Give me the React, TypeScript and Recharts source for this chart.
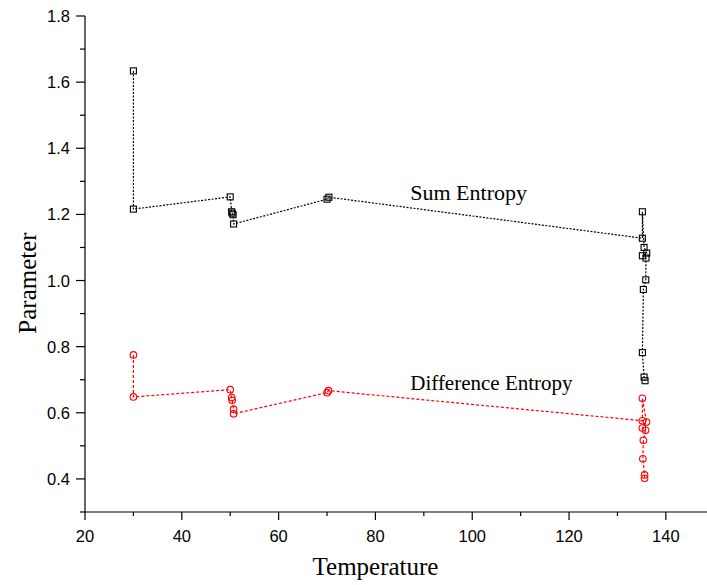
import React from 'react';
import { ScatterChart, Scatter, XAxis, YAxis, ReferenceDot } from 'recharts';

const sumTemperature = [30, 30, 50, 50.3, 50.4, 50.6, 50.7, 70, 70.4, 135.15, 135.15, 135.5, 136.05, 135.15, 135.9, 135.85, 135.35, 135.15, 135.5, 135.7];
const sumEntropy = [1.634, 1.216, 1.253, 1.208, 1.204, 1.199, 1.171, 1.246, 1.252, 1.128, 1.208, 1.1, 1.083, 1.075, 1.068, 1.002, 0.973, 0.782, 0.708, 0.697];

const diffTemperature = [30, 30, 50, 50.3, 50.4, 50.7, 50.7, 70, 70.3, 135.15, 135.15, 136.0, 135.15, 135.8, 135.35, 135.25, 135.6, 135.6];
const diffEntropy = [0.775, 0.648, 0.67, 0.646, 0.638, 0.611, 0.597, 0.661, 0.667, 0.576, 0.644, 0.572, 0.554, 0.547, 0.517, 0.461, 0.412, 0.402];

const xTicks = [20, 30, 40, 50, 60, 70, 80, 90, 100, 110, 120, 130, 140];
const yTicks = [0.3, 0.4, 0.5, 0.6, 0.7, 0.8, 0.9, 1.0, 1.1, 1.2, 1.3, 1.4, 1.5, 1.6, 1.7, 1.8];

const seriesLabels = [
  { name: 'Sum Entropy', x: 87.2, y: 1.243, color: '#000', size: 22 },
  { name: 'Difference Entropy', x: 87.2, y: 0.668, color: '#000', size: 21 },
];

const sumData = sumTemperature.map((t, i) => ({ t, v: sumEntropy[i] }));
const diffData = diffTemperature.map((t, i) => ({ t, v: diffEntropy[i] }));

const SANS = '"Liberation Sans", Arial, sans-serif';
const SERIF = '"Liberation Serif", "Times New Roman", serif';

const SquareShape = (props: any) => {
  const { cx, cy } = props;
  if (cx == null || cy == null) return null;
  return <rect x={cx - 3} y={cy - 3} width={6} height={6} fill="none" stroke="#000" strokeWidth={1.1} />;
};

const CircleShape = (props: any) => {
  const { cx, cy } = props;
  if (cx == null || cy == null) return null;
  return <circle cx={cx} cy={cy} r={3.3} fill="none" stroke="#ff0000" strokeWidth={1.1} />;
};

const YTick = (props: any) => {
  const { x, y, payload } = props;
  const v = payload.value;
  const k = Math.round(v * 10);
  const major = k % 2 === 0;
  const len = major ? 9 : 5;
  return (
    <g>
      <line x1={x - len} x2={x} y1={y} y2={y} stroke="#000" strokeWidth={1.2} />
      {major && (
        <text x={x - 15} y={y + 6} textAnchor="end" fontFamily={SANS} fontSize={16.5} fill="#000">
          {v.toFixed(1)}
        </text>
      )}
    </g>
  );
};

const XTick = (props: any) => {
  const { x, y, payload } = props;
  const v = payload.value;
  const major = Math.round(v) % 20 === 0;
  const len = major ? 8 : 4;
  return (
    <g>
      <line x1={x} x2={x} y1={y} y2={y + len} stroke="#000" strokeWidth={1.2} />
      {major && (
        <text x={x} y={y + 30} textAnchor="middle" fontFamily={SANS} fontSize={16.5} fill="#000">
          {v}
        </text>
      )}
    </g>
  );
};

const YTitle = (props: any) => {
  const { viewBox } = props;
  const cx = viewBox.x + 27;
  const cy = viewBox.y + viewBox.height / 2 + 19;
  return (
    <text x={cx} y={cy} transform={`rotate(-90, ${cx}, ${cy})`} textAnchor="middle" dominantBaseline="central" fontFamily={SERIF} fontSize={25} fill="#000">
      Parameter
    </text>
  );
};

const XTitle = (props: any) => {
  const { viewBox } = props;
  const cx = viewBox.x + 290.5;
  const cy = viewBox.y + 63;
  return (
    <text x={cx} y={cy} textAnchor="middle" fontFamily={SERIF} fontSize={25} fill="#000">
      Temperature
    </text>
  );
};

const makeLabelShape = (text: string, size: number, color: string) => (props: any) => {
  const { cx, cy } = props;
  return (
    <text x={cx} y={cy} textAnchor="start" fontFamily={SERIF} fontSize={size} fill={color}>
      {text}
    </text>
  );
};

export default function App() {
  return (
    <div style={{ position: 'absolute', left: 0, top: 0 }}>
      <ScatterChart width={707} height={585} margin={{ top: 16, right: 0, bottom: 0, left: 0 }}>
        <XAxis
          type="number"
          dataKey="t"
          domain={[20, 148.5]}
          ticks={xTicks}
          allowDataOverflow
          height={73}
          tickSize={0}
          tickMargin={0}
          tickLine={false}
          tick={<XTick />}
          axisLine={{ stroke: '#000', strokeWidth: 1.2 }}
          label={<XTitle />}
          interval={0}
        />
        <YAxis
          type="number"
          dataKey="v"
          domain={[0.3, 1.8]}
          ticks={yTicks}
          allowDataOverflow
          width={85}
          tickSize={0}
          tickMargin={0}
          tickLine={false}
          tick={<YTick />}
          axisLine={{ stroke: '#000', strokeWidth: 1.2 }}
          label={<YTitle />}
          interval={0}
        />
        <Scatter
          data={sumData}
          line={{ stroke: '#000', strokeWidth: 1.2, strokeDasharray: '2 1.5' }}
          lineType="joint"
          shape={SquareShape}
          isAnimationActive={false}
        />
        <Scatter
          data={diffData}
          line={{ stroke: '#ff0000', strokeWidth: 1.2, strokeDasharray: '3 2' }}
          lineType="joint"
          shape={CircleShape}
          isAnimationActive={false}
        />
        {seriesLabels.map((l) => (
          <ReferenceDot
            key={l.name}
            x={l.x}
            y={l.y}
            r={0}
            ifOverflow="visible"
            shape={makeLabelShape(l.name, l.size, l.color)}
          />
        ))}
      </ScatterChart>
    </div>
  );
}
